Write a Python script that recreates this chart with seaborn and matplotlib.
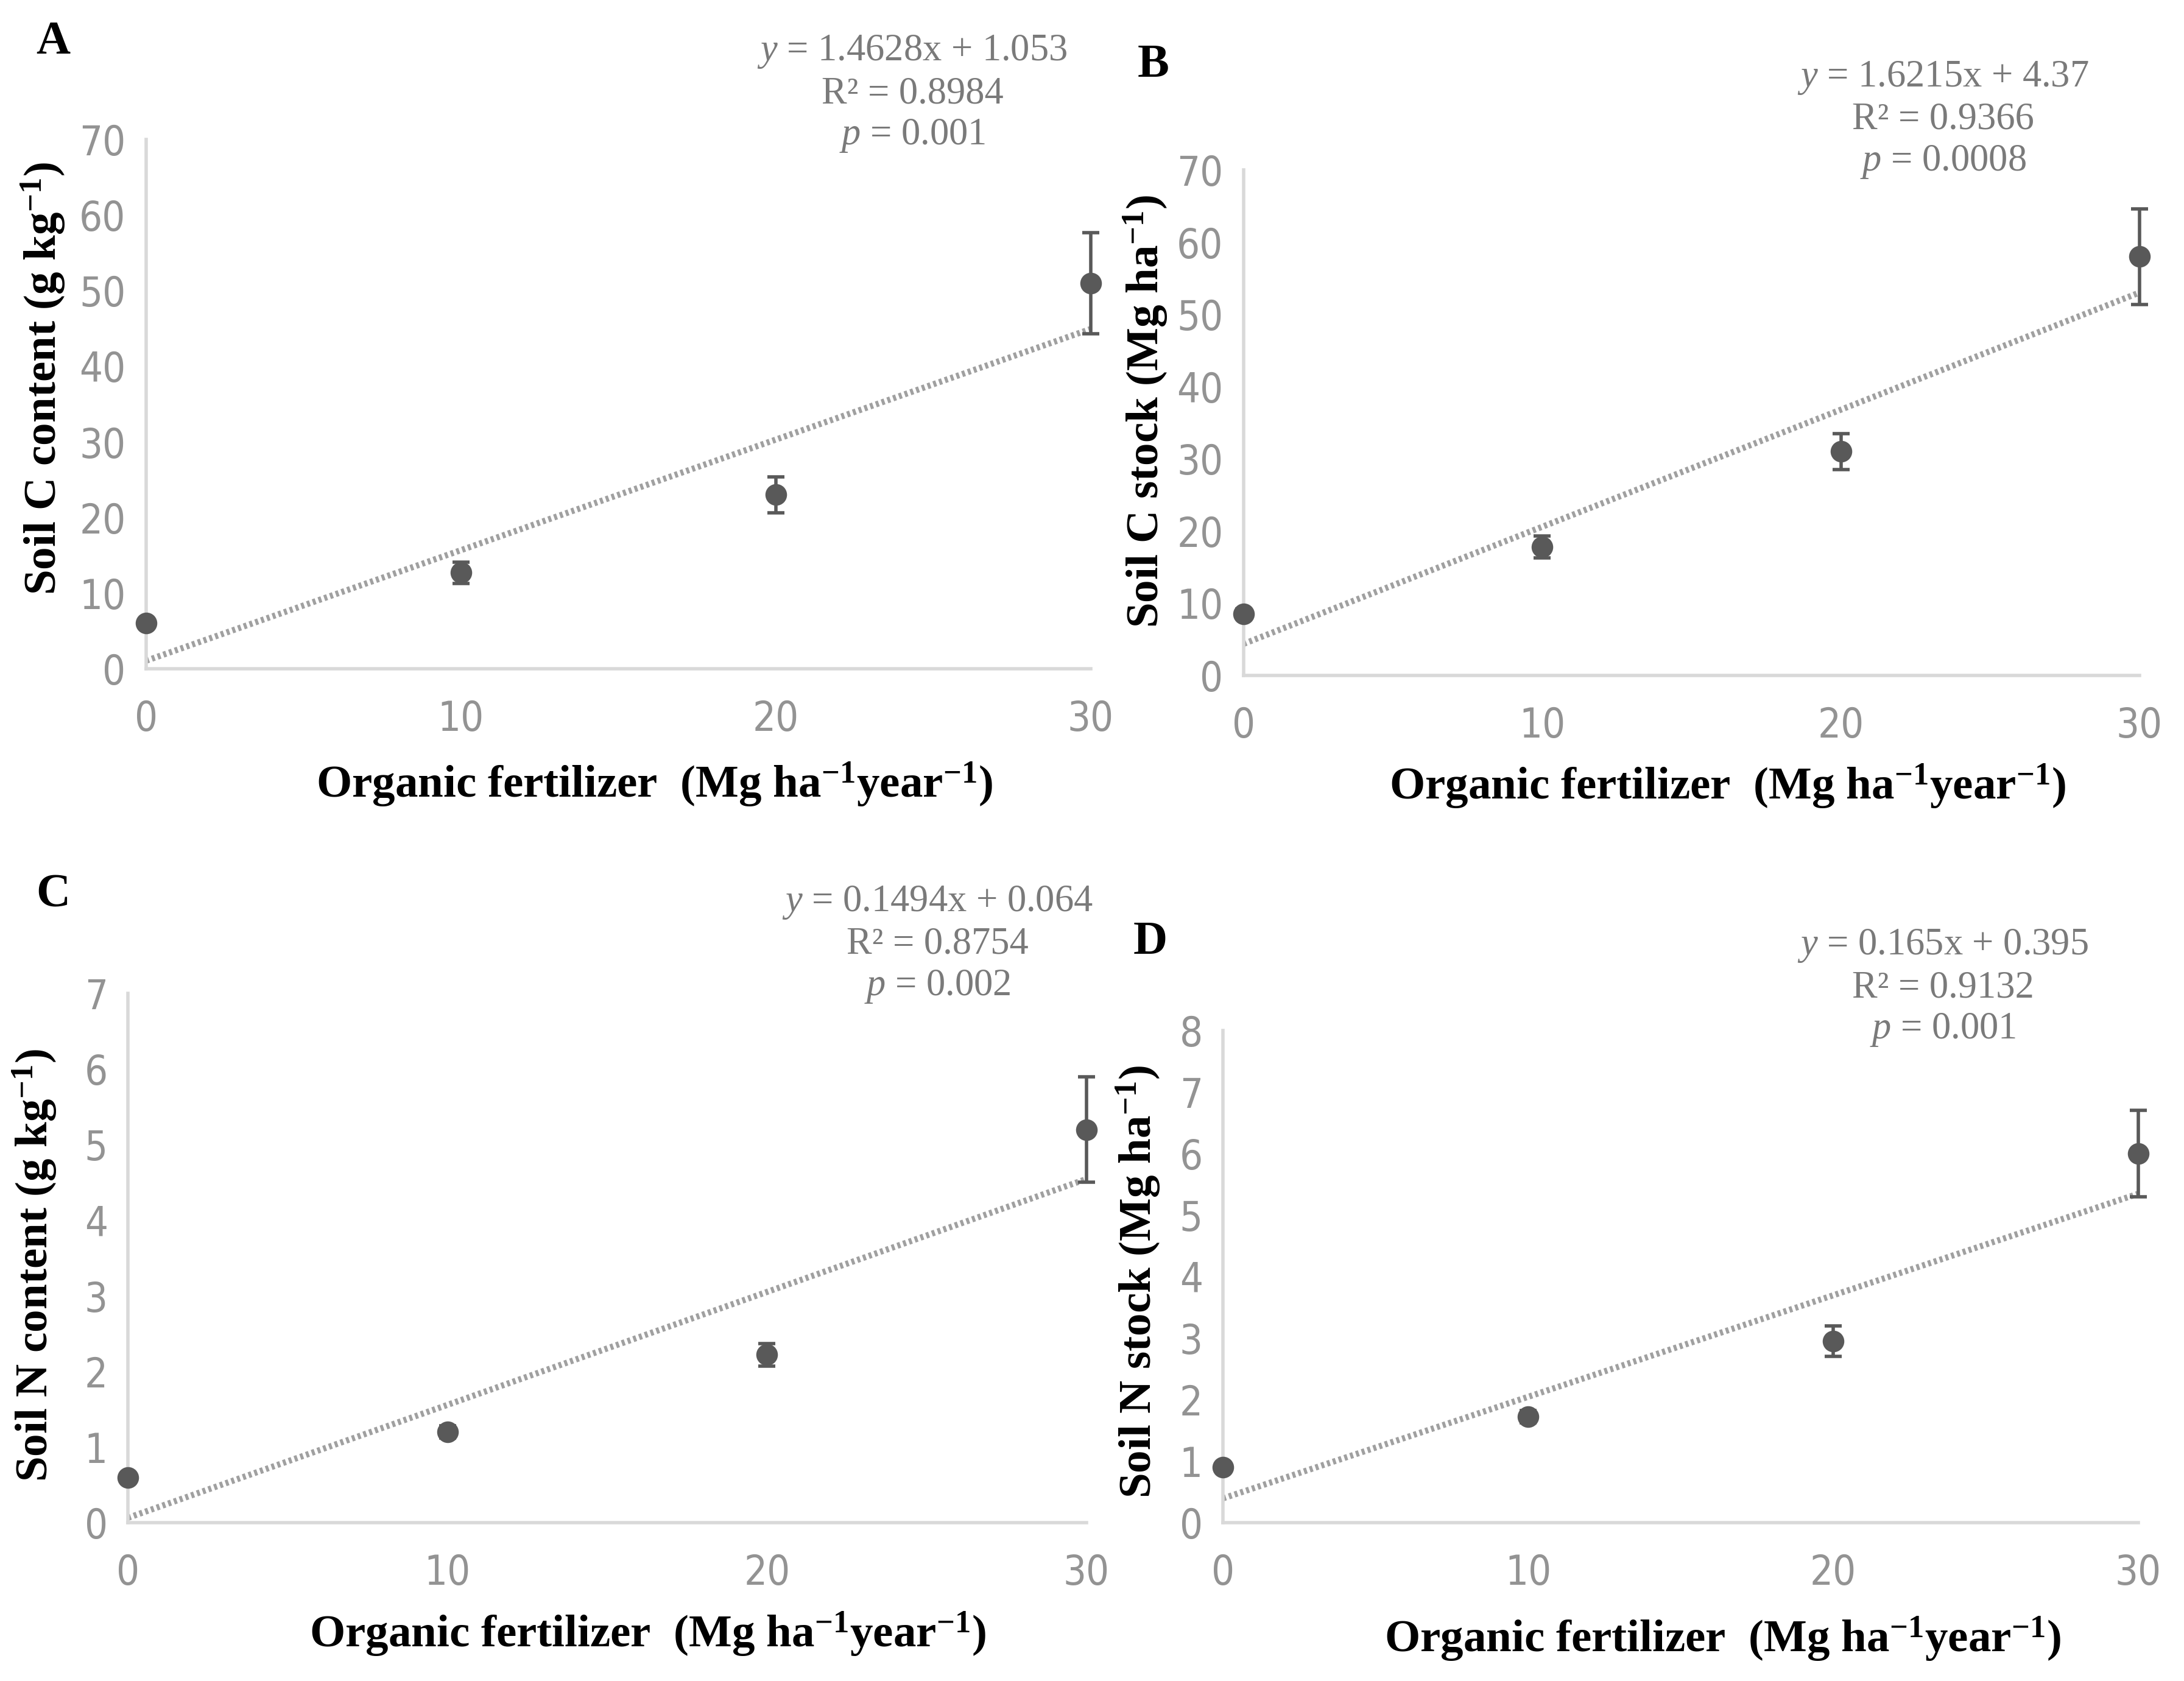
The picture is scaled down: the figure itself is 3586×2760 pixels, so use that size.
import numpy as np
import pandas as pd
import matplotlib.pyplot as plt
import seaborn as sns
from matplotlib import font_manager

# --- Data ---
FERTILIZER = [0, 10, 20, 30]

SOIL_C_CONTENT = [6.0, 12.7, 23.0, 51.0]
SOIL_C_CONTENT_ERR = [0.6, 1.4, 2.4, 6.7]

SOIL_C_STOCK = [8.5, 17.8, 31.0, 58.0]
SOIL_C_STOCK_ERR = [0.7, 1.5, 2.5, 6.6]

SOIL_N_CONTENT = [0.6, 1.2, 2.22, 5.2]
SOIL_N_CONTENT_ERR = [0.05, 0.08, 0.15, 0.7]

SOIL_N_STOCK = [0.9, 1.72, 2.95, 6.0]
SOIL_N_STOCK_ERR = [0.06, 0.1, 0.25, 0.7]

# regression lines as reported on the figure
SLOPES = [1.4628, 1.6215, 0.1494, 0.165]
INTERCEPTS = [1.053, 4.37, 0.064, 0.395]
R2_TEXT = ["0.8984", "0.9366", "0.8754", "0.9132"]
P_TEXT = ["0.001", "0.0008", "0.002", "0.001"]
EQ_TEXT = ["1.4628x + 1.053", "1.6215x + 4.37", "0.1494x + 0.064", "0.165x + 0.395"]

PANEL_LETTERS = ["A", "B", "C", "D"]
Y_LABELS = [
    r"Soil C content (g kg$^{\mathbf{-1}}$)",
    r"Soil C stock (Mg ha$^{\mathbf{-1}}$)",
    r"Soil N content (g kg$^{\mathbf{-1}}$)",
    r"Soil N stock (Mg ha$^{\mathbf{-1}}$)",
]
X_LABEL = r"Organic fertilizer  (Mg ha$^{\mathbf{-1}}$year$^{\mathbf{-1}}$)"
Y_MAX = [70, 70, 7, 8]
Y_STEP = [10, 10, 1, 1]

# --- Layout (figure fractions) ---
AX_RECTS = [
    [0.0669, 0.6022, 0.4325, 0.3148],
    [0.5694, 0.5982, 0.4102, 0.3007],
    [0.0586, 0.0942, 0.4389, 0.3148],
    [0.5600, 0.0942, 0.4190, 0.2928],
]
YLABEL_POS = [(-0.083, 0.548), (-0.082, 0.523), (-0.072, 0.487), (-0.066, 0.49)]
XLABEL_POS = [(0.538, -0.173), (0.54, -0.172), (0.542, -0.165), (0.546, -0.188)]
LETTER_POS = [(87, 69), (1894, 107), (87, 1470), (1889, 1548)]
ANNOT_POS = [(1498, 85), (3190, 128), (1539, 1482), (3190, 1553)]

W, H = 3586, 2760
POINT_COLOR = "#595959"
TREND_COLOR = "#a0a0a0"
SPINE_COLOR = "#d9d9d9"
TICK_COLOR = "#939393"
TEXT_COLOR = "#7a7a7a"


def find_narrow_font():
    """Look for an installed narrow / condensed sans font for the tick labels."""
    for f in font_manager.fontManager.ttflist:
        name = f.name.lower()
        if ("narrow" in name or "condensed" in name or f.stretch in ("condensed", "semi-condensed")) \
                and "mono" not in name and "serif" not in name and f.style == "normal" \
                and f.weight in (400, "normal", "regular"):
            return font_manager.FontProperties(fname=f.fname)
    return font_manager.FontProperties(family="Liberation Sans")


sns.set_theme(style="white")
plt.rcParams["font.family"] = ["Liberation Serif", "DejaVu Serif"]
plt.rcParams["mathtext.fontset"] = "custom"
plt.rcParams["mathtext.rm"] = "Liberation Serif"
plt.rcParams["mathtext.it"] = "Liberation Serif:italic"
plt.rcParams["mathtext.bf"] = "Liberation Serif:bold"

tick_font = find_narrow_font()
tick_font.set_size(24)

fig = plt.figure(figsize=(W / 200, H / 200), dpi=200)

series = [
    (SOIL_C_CONTENT, SOIL_C_CONTENT_ERR),
    (SOIL_C_STOCK, SOIL_C_STOCK_ERR),
    (SOIL_N_CONTENT, SOIL_N_CONTENT_ERR),
    (SOIL_N_STOCK, SOIL_N_STOCK_ERR),
]

for i, (vals, errs) in enumerate(series):
    ax = fig.add_axes(AX_RECTS[i])
    df = pd.DataFrame({"x": FERTILIZER, "y": vals, "err": errs})

    # trend line from the reported equation
    trend = pd.DataFrame({"x": [FERTILIZER[0], FERTILIZER[-1]]})
    trend["y"] = SLOPES[i] * trend["x"] + INTERCEPTS[i]
    sns.lineplot(data=trend, x="x", y="y", ax=ax, color=TREND_COLOR,
                 linewidth=3.6, linestyle=(0, (0.5, 0.5)), zorder=2)

    ax.errorbar(df["x"], df["y"], yerr=df["err"], fmt="none",
                ecolor=POINT_COLOR, elinewidth=2, capsize=5, capthick=2,
                zorder=3, clip_on=False)
    sns.scatterplot(data=df, x="x", y="y", ax=ax, color=POINT_COLOR,
                    s=140, edgecolor=POINT_COLOR, zorder=4, clip_on=False)

    ax.set_xlim(0, 30)
    ax.set_ylim(0, Y_MAX[i])
    ax.set_xticks(FERTILIZER)
    ax.set_yticks(np.arange(0, Y_MAX[i] + Y_STEP[i] / 2, Y_STEP[i]))

    for side in ["top", "right"]:
        ax.spines[side].set_visible(False)
    for side in ["left", "bottom"]:
        ax.spines[side].set_color(SPINE_COLOR)
        ax.spines[side].set_linewidth(2.0)

    ax.tick_params(axis="both", length=0, colors=TICK_COLOR)
    ax.tick_params(axis="x", pad=18)
    ax.tick_params(axis="y", pad=12)
    for lab in ax.get_xticklabels() + ax.get_yticklabels():
        lab.set_fontproperties(tick_font)

    ax.set_ylabel(Y_LABELS[i], fontsize=27, fontweight="bold", color="black")
    ax.set_xlabel(X_LABEL, fontsize=27, fontweight="bold", color="black")
    ax.yaxis.set_label_coords(*YLABEL_POS[i])
    ax.xaxis.set_label_coords(*XLABEL_POS[i])

    # panel letter
    lx, ly = LETTER_POS[i]
    fig.text(lx / W, 1 - ly / H, PANEL_LETTERS[i], fontsize=28, fontweight="bold",
             ha="center", va="center", color="black")

    # regression annotation
    axx, axy = ANNOT_POS[i]
    lines = [
        r"$y$ = " + EQ_TEXT[i],
        "R² = " + R2_TEXT[i],
        r"$p$ = " + P_TEXT[i],
    ]
    for k, line in enumerate(lines):
        fig.text(axx / W, 1 - (axy + k * 69) / H, line, fontsize=22.5,
                 ha="center", va="center", color=TEXT_COLOR)

fig.savefig("out.png", dpi=200, facecolor="white")
